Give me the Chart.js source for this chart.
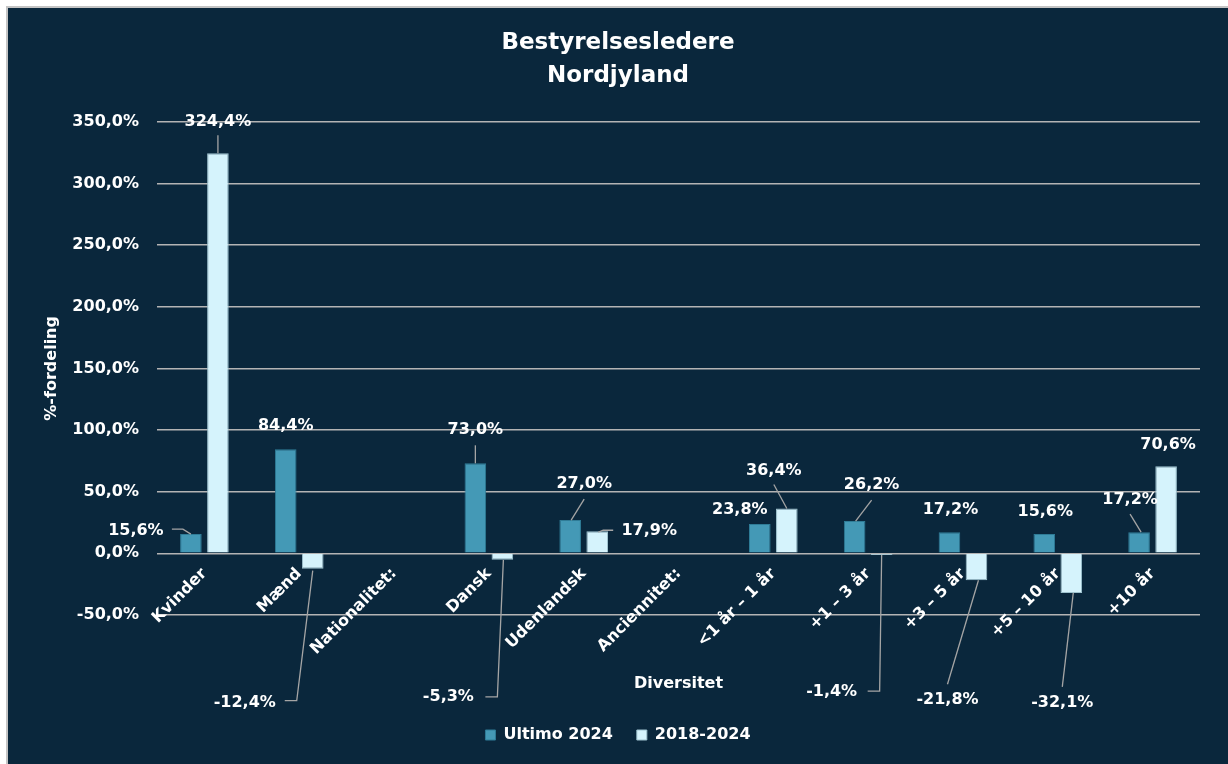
<!DOCTYPE html>
<html>
<head>
<meta charset="utf-8">
<script src="https://cdn.jsdelivr.net/npm/chart.js@4"></script>
<style>
  html, body { margin: 0; padding: 0; background: #ffffff; }
  #frame {
    position: absolute; left: 6px; top: 6px; width: 1220px; height: 756px;
    border-top: 2px solid #c4c4c4; border-left: 2px solid #c4c4c4;
    background: #0a273c;
  }
  #chartBox { position: relative; width: 1220px; height: 756px; }
</style>
</head>
<body>
<div id="frame">
  <div id="chartBox"><canvas id="chart"></canvas></div>
</div>
<script>
// categories and values
const categories = ['Kvinder', 'Mænd', 'Nationalitet:', 'Dansk', 'Udenlandsk', 'Anciennitet:',
    '<1 år – 1 år', '+1 – 3 år', '+3 – 5 år', '+5 – 10 år', '+10 år'];
const ultimo2024 = [15.6, 84.4, null, 73.0, 27.0, null, 23.8, 26.2, 17.2, 15.6, 17.2];
const change2018_2024 = [324.4, -12.4, null, -5.3, 17.9, null, 36.4, -1.4, -21.8, -32.1, 70.6];
const yTicks = [-50, 0, 50, 100, 150, 200, 250, 300, 350];

// where each data label sits, relative to the end of its bar (px)
const ultimoLabelPos = [[-55, -3], [0, -23], null, [0, -33], [14, -36], null, [-20, -14], [17, -36], [1, -22], [1, -22], [-9, -32]];
const changeLabelPos = [[0, -31], [-68, 134], null, [-54, 137], [52, 0], null, [-13, -38], [-50, 137], [-29, 120], [-9, 110], [2, -21]];
// leader lines, same reference point
const ultimoLeaders = [[[-19, -5], [-8, -5], [0, 0]], null, null, [[0, -18], [0, 0]], [[14, -21], [1, 0]], null, null,
    [[17, -21], [1, 0]], null, null, [[-9, -18], [2, 0]]];
const changeLeaders = [[[0, -18], [0, 0]], [[0, 2], [-16, 132], [-28, 132]], null, [[1, 0], [-5, 137], [-17, 137]],
    [[1, 1], [6, -1], [16, -1]], null, [[-13, -24], [0, 0]], [[0, 0], [-2, 136], [-14, 136]], [[2, 0], [-29, 104]],
    [[2, 0], [-9, 94]], null];

const FONT = "'DejaVu Sans', sans-serif";

function fmt(v) {
    return v.toFixed(1).replace('.', ',') + '%';
}

const labelPlugin = {
    id: 'barLabels',
    afterDatasetsDraw(chart) {
        const ctx = chart.ctx;
        const posSets = [ultimoLabelPos, changeLabelPos];
        const leaderSets = [ultimoLeaders, changeLeaders];
        ctx.save();
        chart.data.datasets.forEach((ds, di) => {
            const meta = chart.getDatasetMeta(di);
            meta.data.forEach((bar, i) => {
                const v = ds.data[i];
                if (v === null || !posSets[di][i]) return;
                const ax = bar.x, ay = bar.y;
                const lead = leaderSets[di][i];
                if (lead) {
                    ctx.strokeStyle = '#a5a5a5';
                    ctx.lineWidth = 1.3;
                    ctx.beginPath();
                    lead.forEach((p, k) => {
                        if (k === 0) ctx.moveTo(ax + p[0], ay + p[1]);
                        else ctx.lineTo(ax + p[0], ay + p[1]);
                    });
                    ctx.stroke();
                }
                const p = posSets[di][i];
                ctx.fillStyle = '#ffffff';
                ctx.font = 'bold 16px ' + FONT;
                ctx.textAlign = 'center';
                ctx.textBaseline = 'middle';
                ctx.fillText(fmt(v), ax + p[0], ay + p[1]);
            });
        });
        ctx.restore();
    }
};

new Chart(document.getElementById('chart'), {
    type: 'bar',
    data: {
        labels: categories,
        datasets: [{
            label: 'Ultimo 2024',
            data: ultimo2024,
            backgroundColor: '#4499b6',
            borderColor: '#2f7c97',
            borderWidth: 1,
            categoryPercentage: 0.57,
            barPercentage: 0.8
        }, {
            label: '2018-2024',
            data: change2018_2024,
            backgroundColor: '#d5f3fc',
            borderColor: '#9fc3cf',
            borderWidth: 1,
            categoryPercentage: 0.57,
            barPercentage: 0.8
        }]
    },
    options: {
        responsive: true,
        maintainAspectRatio: false,
        animation: false,
        layout: { padding: { left: 0, right: 0, top: 0, bottom: 11 } },
        plugins: {
            title: {
                display: true,
                text: ['Bestyrelsesledere', 'Nordjyland'],
                color: '#ffffff',
                font: { family: FONT, size: 23, weight: 'bold', lineHeight: 1.45 },
                padding: { top: 18, bottom: 29 }
            },
            legend: {
                position: 'bottom',
                labels: {
                    color: '#ffffff',
                    font: { family: FONT, size: 16, weight: 'bold' },
                    boxWidth: 10,
                    boxHeight: 10,
                    padding: 24
                }
            },
            tooltip: { enabled: false }
        },
        scales: {
            x: {
                grid: { display: false },
                border: { display: false },
                ticks: { display: false },
                title: {
                    display: true,
                    text: 'Diversitet',
                    color: '#ffffff',
                    font: { family: FONT, size: 16, weight: 'bold' },
                    padding: { top: 0, bottom: 10 }
                },
                afterFit(scale) { scale.height = 88; }
            },
            // category labels sit on the zero line, like the original
            xZero: {
                type: 'category',
                position: { y: 0 },
                offset: true,
                grid: { display: false, drawTicks: false },
                border: { display: false },
                ticks: {
                    color: '#ffffff',
                    font: { family: FONT, size: 16, weight: 'bold' },
                    minRotation: 45,
                    maxRotation: 45,
                    autoSkip: false,
                    padding: 11
                },
                afterFit(scale) { scale.height = 0; }
            },
            y: {
                min: -50,
                max: 350,
                afterBuildTicks(scale) { scale.ticks = yTicks.map(v => ({ value: v })); },
                grid: { color: '#b4b4b4', lineWidth: 1.5, drawTicks: false },
                border: { display: false },
                ticks: {
                    color: '#ffffff',
                    font: { family: FONT, size: 16, weight: 'bold' },
                    padding: 18,
                    callback: v => fmt(v)
                },
                title: {
                    display: true,
                    text: '%-fordeling',
                    color: '#ffffff',
                    font: { family: FONT, size: 16, weight: 'bold' },
                    padding: { top: 34, bottom: 0 }
                },
                afterFit(scale) { scale.width = 149; }
            },
            yRight: {
                position: 'right',
                grid: { display: false },
                border: { display: false },
                ticks: { display: false },
                afterFit(scale) { scale.width = 28; }
            }
        }
    },
    plugins: [labelPlugin]
});
</script>
</body>
</html>
